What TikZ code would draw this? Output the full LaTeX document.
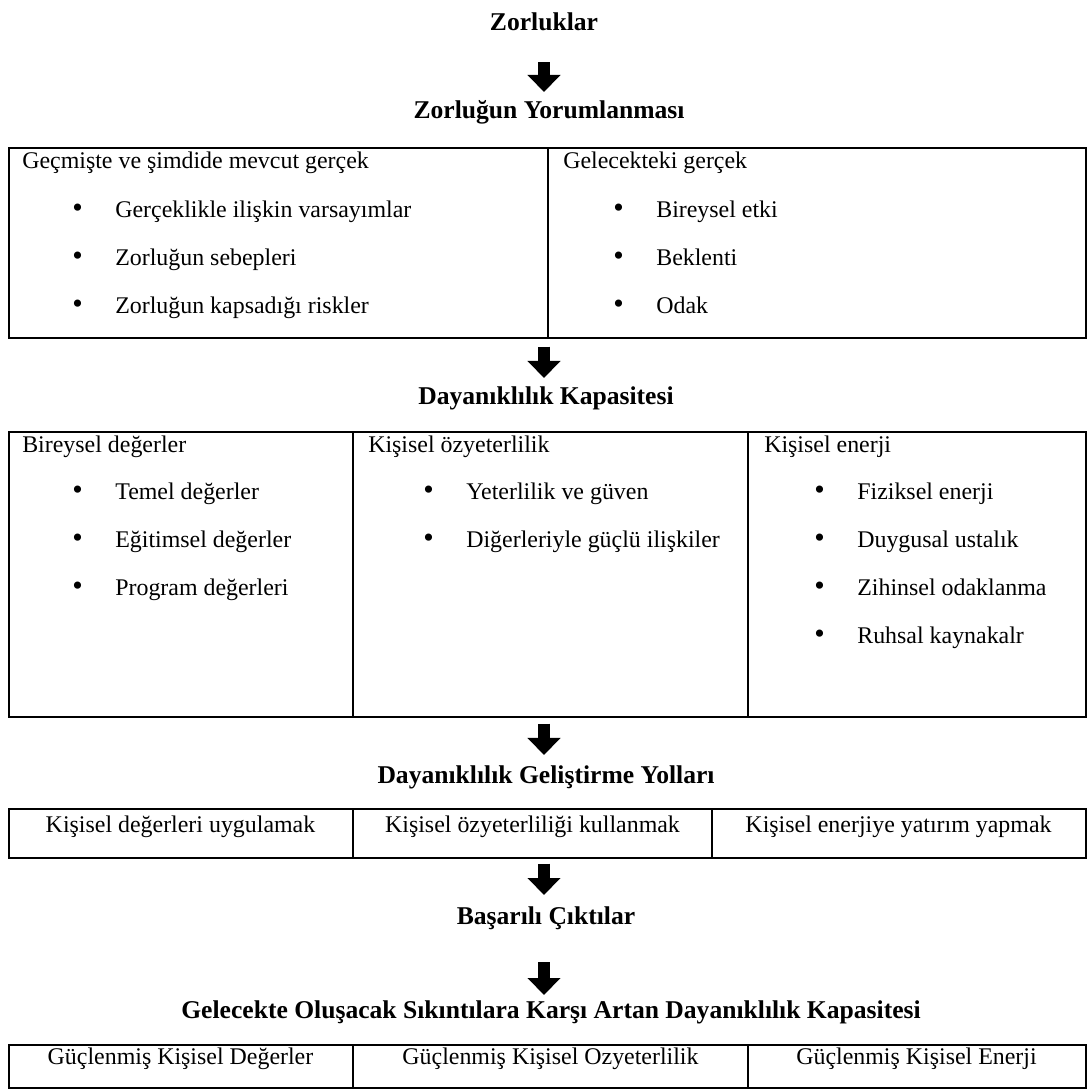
\documentclass[tikz,border=0pt]{standalone}
\usepackage{fontspec}
\setmainfont{Liberation Serif}
\usetikzlibrary{arrows.meta}

\newcommand{\itembul}{\makebox[30.6pt][l]{\scalebox{1.25}{\textbullet}}}

\tikzset{
  title/.style={font=\bfseries\fontsize{18.2}{21}\selectfont, inner sep=0pt},
  tablebox/.style={draw, line width=1.1pt, anchor=north west, inner sep=0pt},
  head/.style={anchor=west, inner sep=0pt, text height=12pt, text depth=3pt},
  item/.style={head},
  celltext/.style={inner sep=0pt, text height=12pt, text depth=3pt},
  bigarrow/.style={line width=0.3cm, -{Triangle[length=0.425cm, width=0.8cm]}}
}

\begin{document}
\begin{tikzpicture}[x=0.025cm, y=0.025cm, font=\fontsize{17}{20}\selectfont]
    \useasboundingbox (0,0) rectangle (1088,-1091);

    % Titles
    \node[title] (zorluk) at (544,-22) {Zorluklar};
    \node[title] (yorum) at (549,-112) {Zorluğun Yorumlanması};
    \node[title] (kapasite) at (546,-398) {Dayanıklılık Kapasitesi};
    \node[title] (yollar) at (546,-777) {Dayanıklılık Geliştirme Yolları};
    \node[title] (basari) at (546,-918) {Başarılı Çıktılar};
    \node[title] (artan) at (551,-1012) {Gelecekte Oluşacak Sıkıntılara Karşı Artan Dayanıklılık Kapasitesi};

    % Draw the tables
    \node[tablebox, minimum width=26.925cm, minimum height=4.75cm] (tab1) at (8,-147) {};
    \draw[line width=1.1pt] (548,0 |- tab1.north) -- (548,0 |- tab1.south);

    \node[tablebox, minimum width=26.925cm, minimum height=7.125cm] (tab2) at (8,-431) {};
    \draw[line width=1.1pt] (353,0 |- tab2.north) -- (353,0 |- tab2.south);
    \draw[line width=1.1pt] (748,0 |- tab2.north) -- (748,0 |- tab2.south);

    \node[tablebox, minimum width=26.925cm, minimum height=1.225cm] (tab3) at (8,-808) {};
    \draw[line width=1.1pt] (353,0 |- tab3.north) -- (353,0 |- tab3.south);
    \draw[line width=1.1pt] (712,0 |- tab3.north) -- (712,0 |- tab3.south);

    \node[tablebox, minimum width=26.925cm, minimum height=1.075cm] (tab4) at (8,-1044) {};
    \draw[line width=1.1pt] (353,0 |- tab4.north) -- (353,0 |- tab4.south);
    \draw[line width=1.1pt] (748,0 |- tab4.north) -- (748,0 |- tab4.south);

    % Texts of the first table
    \node[head] (gecmis) at (22,-162) {Geçmişte ve şimdide mevcut gerçek};
    \foreach \txt [count=\i] in {Gerçeklikle ilişkin varsayımlar, Zorluğun sebepleri, Zorluğun kapsadığı riskler}
        \node[item] (gecmis-\i) at (72,{-163-48*\i}) {\itembul\txt};
    \node[head] (gelecek) at (563,-162) {Gelecekteki gerçek};
    \foreach \txt [count=\i] in {Bireysel etki, Beklenti, Odak}
        \node[item] (gelecek-\i) at (613,{-163-48*\i}) {\itembul\txt};

    % Texts of the second table
    \node[head] (deger) at (22,-446) {Bireysel değerler};
    \foreach \txt [count=\i] in {Temel değerler, Eğitimsel değerler, Program değerleri}
        \node[item] (deger-\i) at (72,{-445-48*\i}) {\itembul\txt};
    \node[head] (ozyet) at (368,-446) {Kişisel özyeterlilik};
    \foreach \txt [count=\i] in {Yeterlilik ve güven, Diğerleriyle güçlü ilişkiler}
        \node[item] (ozyet-\i) at (423,{-445-48*\i}) {\itembul\txt};
    \node[head] (enerji) at (764,-446) {Kişisel enerji};
    \foreach \txt [count=\i] in {Fiziksel enerji, Duygusal ustalık, Zihinsel odaklanma, Ruhsal kaynakalr}
        \node[item] (enerji-\i) at (814,{-445-48*\i}) {\itembul\txt};

    % Texts of the third and fourth tables
    \node[celltext] (uygula) at (180.5,-826) {Kişisel değerleri uygulamak};
    \node[celltext] (kullan) at (532.5,-826) {Kişisel özyeterliliği kullanmak};
    \node[celltext] (yatir) at (898.5,-826) {Kişisel enerjiye yatırım yapmak};
    \node[celltext] (gdeger) at (180.5,-1058) {Güçlenmiş Kişisel Değerler};
    \node[celltext] (gozyet) at (550.5,-1058) {Güçlenmiş Kişisel Ozyeterlilik};
    \node[celltext] (generji) at (916.5,-1058) {Güçlenmiş Kişisel Enerji};

    % Arrows
    \draw[bigarrow, shorten <=1cm, shorten >=0.5cm] (zorluk.center) -- (zorluk.center |- yorum.center);
    \draw[bigarrow, shorten <=0.2cm, shorten >=0.5cm] (zorluk |- tab1.south) -- (zorluk |- kapasite.center);
    \draw[bigarrow, shorten <=0.15cm, shorten >=0.55cm] (zorluk |- tab2.south) -- (zorluk |- yollar.center);
    \draw[bigarrow, shorten <=0.125cm, shorten >=0.575cm] (zorluk |- tab3.south) -- (zorluk |- basari.center);
    \draw[bigarrow, shorten <=1.1cm, shorten >=0.425cm] (zorluk |- basari.center) -- (zorluk |- artan.center);
\end{tikzpicture}
\end{document}
